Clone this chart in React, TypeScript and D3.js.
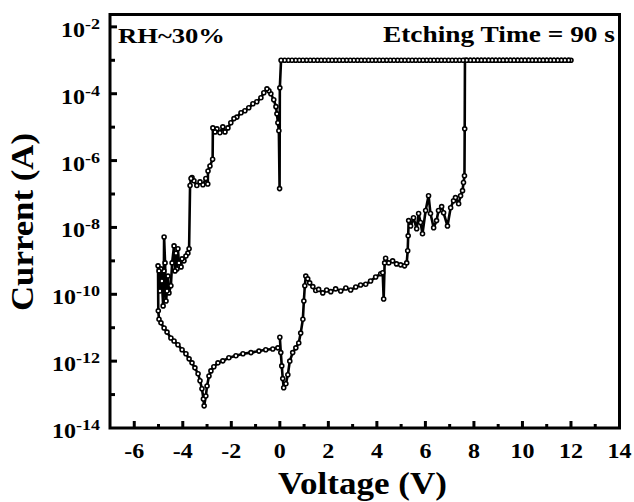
import React from "react";
import * as d3 from "d3";

// Forward sweep 0 -> +7.6 V (high-resistance state, then SET)
const posV = [0.0, 0.04, 0.08, 0.12, 0.16, 0.25, 0.33, 0.41, 0.53, 0.66, 0.78, 0.86, 0.95, 0.99, 1.03, 1.07, 1.15, 1.23, 1.36, 1.48, 1.6, 1.77, 1.93, 2.1, 2.3, 2.51, 2.72, 2.92, 3.13, 3.33, 3.54, 3.74, 3.95, 4.16, 4.24, 4.28, 4.32, 4.36, 4.49, 4.65, 4.81, 4.98, 5.14, 5.23, 5.27, 5.29, 5.31, 5.39, 5.51, 5.64, 5.72, 5.8, 5.88, 6.01, 6.13, 6.21, 6.34, 6.46, 6.54, 6.67, 6.75, 6.91, 7.04, 7.16, 7.24, 7.37, 7.45, 7.53, 7.57, 7.61, 7.62, 7.63];
const posI = [5.2e-12, 1.8e-12, 7.2e-13, 3.0e-13, 1.6e-13, 2.1e-13, 3.9e-13, 1.0e-12, 1.8e-12, 2.5e-12, 3.5e-12, 6.9e-12, 1.8e-11, 6.3e-11, 1.8e-10, 3.5e-10, 2.9e-10, 2.2e-10, 1.7e-10, 1.3e-10, 1.4e-10, 1.1e-10, 1.35e-10, 1.2e-10, 1.45e-10, 1.25e-10, 1.55e-10, 1.35e-10, 1.65e-10, 1.9e-10, 2.0e-10, 2.5e-10, 3.3e-10, 4.1e-10, 4.4e-10, 7.2e-11, 8.7e-10, 1.2e-9, 8.7e-10, 1.0e-9, 8.1e-10, 7.6e-10, 7.1e-10, 8.7e-10, 2.0e-9, 5.6e-9, 1.6e-8, 1.1e-8, 1.95e-8, 9.1e-9, 2.6e-8, 1.4e-8, 6.5e-9, 3.2e-8, 8.9e-8, 2.6e-8, 9.8e-9, 1.6e-8, 3.2e-8, 4.2e-8, 2.75e-8, 1.1e-8, 3.9e-8, 6.3e-8, 7.8e-8, 5.1e-8, 8.9e-8, 1.26e-7, 2.2e-7, 3.5e-7, 8.9e-6, 1.0e-3];

// Compliance-limited part of the sweep
const complianceI = 1.0e-3;
const setV = [7.7, 7.85, 8.0, 8.15, 8.3, 8.45, 8.6, 8.75, 8.9, 9.05, 9.2, 9.35, 9.5, 9.65, 9.8, 9.95, 10.1, 10.25, 10.4, 10.55, 10.7, 10.85, 11.0, 11.15, 11.3, 11.45, 11.6, 11.75, 11.9, 12.0];
const backV = [11.9, 11.75, 11.6, 11.45, 11.3, 11.15, 11.0, 10.85, 10.7, 10.55, 10.4, 10.25, 10.1, 9.95, 9.8, 9.65, 9.5, 9.35, 9.2, 9.05, 8.9, 8.75, 8.6, 8.45, 8.3, 8.15, 8.0, 7.85, 7.7, 7.55, 7.4, 7.25, 7.1, 6.95, 6.8, 6.65, 6.5, 6.35, 6.2, 6.05, 5.9, 5.75, 5.6, 5.45, 5.3, 5.15, 5.0, 4.85, 4.7, 4.55, 4.4, 4.25, 4.1, 3.95, 3.8, 3.65, 3.5, 3.35, 3.2, 3.05, 2.9, 2.75, 2.6, 2.45, 2.3, 2.15, 2.0, 1.85, 1.7, 1.55, 1.4, 1.25, 1.1, 0.95, 0.8, 0.65, 0.5, 0.35, 0.2, 0.05];

// Negative sweep 0 -> -5 V (low-resistance state, gradual RESET)
const negHighV = [0.0, -0.01, -0.04, -0.08, -0.12, -0.16, -0.25, -0.37, -0.45, -0.53, -0.66, -0.78, -0.95, -1.11, -1.28, -1.44, -1.6, -1.77, -1.89, -2.02, -2.14, -2.26, -2.35, -2.47, -2.59, -2.67, -2.76, -2.77, -2.88, -2.96, -2.97, -3.05, -3.17, -3.29, -3.42, -3.54, -3.62, -3.66, -3.7, -3.74, -3.79, -3.87, -3.95, -4.03, -4.07, -4.16, -4.2, -4.24, -4.28, -4.32, -4.36, -4.44, -4.49, -4.57, -4.61, -4.65, -4.69, -4.73, -4.77, -4.78, -4.81, -4.86, -4.9, -4.94, -4.98, -5.02, -5.01];
const negHighI = [1.5e-4, 1.45e-7, 7.8e-6, 1.35e-5, 2.5e-5, 4.1e-5, 6.6e-5, 1.0e-4, 1.23e-4, 1.4e-4, 1.07e-4, 7.6e-5, 5.75e-5, 5.0e-5, 3.8e-5, 3.1e-5, 2.7e-5, 2.0e-5, 1.8e-5, 1.35e-5, 9.5e-6, 7.2e-6, 1.02e-5, 6.8e-6, 8.9e-6, 7.2e-6, 9.5e-6, 1.1e-6, 6.9e-7, 4.9e-7, 2.0e-7, 2.9e-7, 1.9e-7, 2.3e-7, 1.8e-7, 2.5e-7, 3.1e-7, 2.9e-7, 1.8e-7, 2.3e-9, 1.7e-9, 1.4e-9, 1.0e-9, 1.15e-9, 6.6e-10, 8.7e-10, 2.3e-9, 5.75e-10, 1.7e-9, 5.0e-10, 2.8e-9, 8.7e-10, 1.8e-10, 1.1e-10, 3.5e-10, 1.26e-10, 6.3e-11, 8.7e-10, 5.2e-9, 5.0e-10, 4.5e-11, 2.5e-10, 5.75e-10, 1.26e-10, 5.0e-10, 7.1e-10, 3.2e-11];

// Return sweep -5 -> 0 V (high-resistance state)
const negLowV = [-4.98, -4.9, -4.77, -4.65, -4.49, -4.36, -4.2, -4.03, -3.87, -3.74, -3.62, -3.5, -3.37, -3.29, -3.21, -3.15, -3.12, -3.05, -3.0, -2.92, -2.84, -2.72, -2.55, -2.35, -2.1, -1.81, -1.52, -1.19, -0.86, -0.58, -0.29, -0.08];
const negLowI = [1.8e-11, 1.4e-11, 9.8e-12, 7.4e-12, 4.9e-12, 4.0e-12, 3.1e-12, 2.2e-12, 1.66e-12, 1.17e-12, 8.9e-13, 6.3e-13, 4.2e-13, 2.6e-13, 1.5e-13, 7.4e-14, 4.6e-14, 9.1e-14, 1.8e-13, 3.6e-13, 5.1e-13, 6.8e-13, 8.9e-13, 1.02e-12, 1.26e-12, 1.45e-12, 1.66e-12, 1.8e-12, 2.0e-12, 2.2e-12, 2.3e-12, 2.5e-12];

const xTickValues = [-6, -4, -2, 0, 2, 4, 6, 8, 10, 12, 14];
const xMinorValues = [-5, -3, -1, 1, 3, 5, 7, 9, 11, 13];
const yTickExponents = [-14, -12, -10, -8, -6, -4, -2];
const yMinorExponents = [-13, -11, -9, -7, -5, -3];

const TXT: React.CSSProperties = {
  fontFamily: "'Liberation Serif', 'Times New Roman', Times, serif",
  fontWeight: 700,
};

export default function App() {
  const x = d3.scaleLinear().domain([-7, 14]).range([110, 619.5]);
  const y = d3.scaleLog().domain([1e-14, Math.pow(10, -1.63)]).range([428, 14.5]);

  const pts: [number, number][] = [
    ...posV.map((v, i) => [v, posI[i]] as [number, number]),
    ...setV.map((v) => [v, complianceI] as [number, number]),
    ...backV.map((v) => [v, complianceI] as [number, number]),
    ...negHighV.map((v, i) => [v, negHighI[i]] as [number, number]),
    ...negLowV.map((v, i) => [v, negLowI[i]] as [number, number]),
  ];
  const line = d3
    .line<[number, number]>()
    .x((d) => x(d[0]))
    .y((d) => y(d[1]));

  const left = x.range()[0];
  const right = x.range()[1];
  const bottom = y.range()[0];
  const top = y.range()[1];

  return (
    <svg width={634} height={502} style={{ position: "fixed", left: 0, top: 0, background: "#fff" }}>
      <rect x={0} y={0} width={634} height={502} fill="#fff" />
      <path d={line(pts) || ""} fill="none" stroke="#000" strokeWidth={2.6} strokeLinejoin="round" />
      {pts.map((d, i) => (
        <circle key={i} cx={x(d[0])} cy={y(d[1])} r={2} fill="#fff" stroke="#000" strokeWidth={1.6} />
      ))}

      {/* frame */}
      <rect x={left} y={top} width={right - left} height={bottom - top} fill="none" stroke="#000" strokeWidth={3} />

      {/* x ticks */}
      {xTickValues.map((v) => (
        <g key={"xt" + v}>
          {v < 14 && <line x1={x(v)} x2={x(v)} y1={bottom} y2={bottom - 7} stroke="#000" strokeWidth={3} />}
          <text transform={`translate(${x(v)},458) scale(1.2,1)`} textAnchor="middle" fontSize={20} style={TXT}>
            {v}
          </text>
        </g>
      ))}
      {xMinorValues.map((v) => (
        <line key={"xm" + v} x1={x(v)} x2={x(v)} y1={bottom} y2={bottom - 4} stroke="#000" strokeWidth={3} />
      ))}

      {/* y ticks */}
      {yTickExponents.map((e) => (
        <g key={"yt" + e}>
          {e > -14 && <line x1={left} x2={left + 7} y1={y(Math.pow(10, e))} y2={y(Math.pow(10, e))} stroke="#000" strokeWidth={3} />}
          <text transform={`translate(100,${y(Math.pow(10, e)) + 10}) scale(1.2,1)`} textAnchor="end" fontSize={20} style={TXT}>
            10
            <tspan dy={-8} fontSize={15}>
              {e}
            </tspan>
          </text>
        </g>
      ))}
      {yMinorExponents.map((e) => (
        <line key={"ym" + e} x1={left} x2={left + 5} y1={y(Math.pow(10, e))} y2={y(Math.pow(10, e))} stroke="#000" strokeWidth={3} />
      ))}

      {/* annotations */}
      <text x={118} y={43} fontSize={22} textLength={107} lengthAdjust="spacingAndGlyphs" style={TXT}>
        RH~30%
      </text>
      <text x={383} y={42} fontSize={23} textLength={232} lengthAdjust="spacingAndGlyphs" style={TXT}>
        Etching Time = 90 s
      </text>

      {/* axis titles */}
      <text x={278} y={494} fontSize={31} textLength={169} lengthAdjust="spacingAndGlyphs" style={TXT}>
        Voltage (V)
      </text>
      <text transform="translate(33,311) rotate(-90)" fontSize={32} textLength={178} lengthAdjust="spacingAndGlyphs" style={TXT}>
        Current (A)
      </text>
    </svg>
  );
}
